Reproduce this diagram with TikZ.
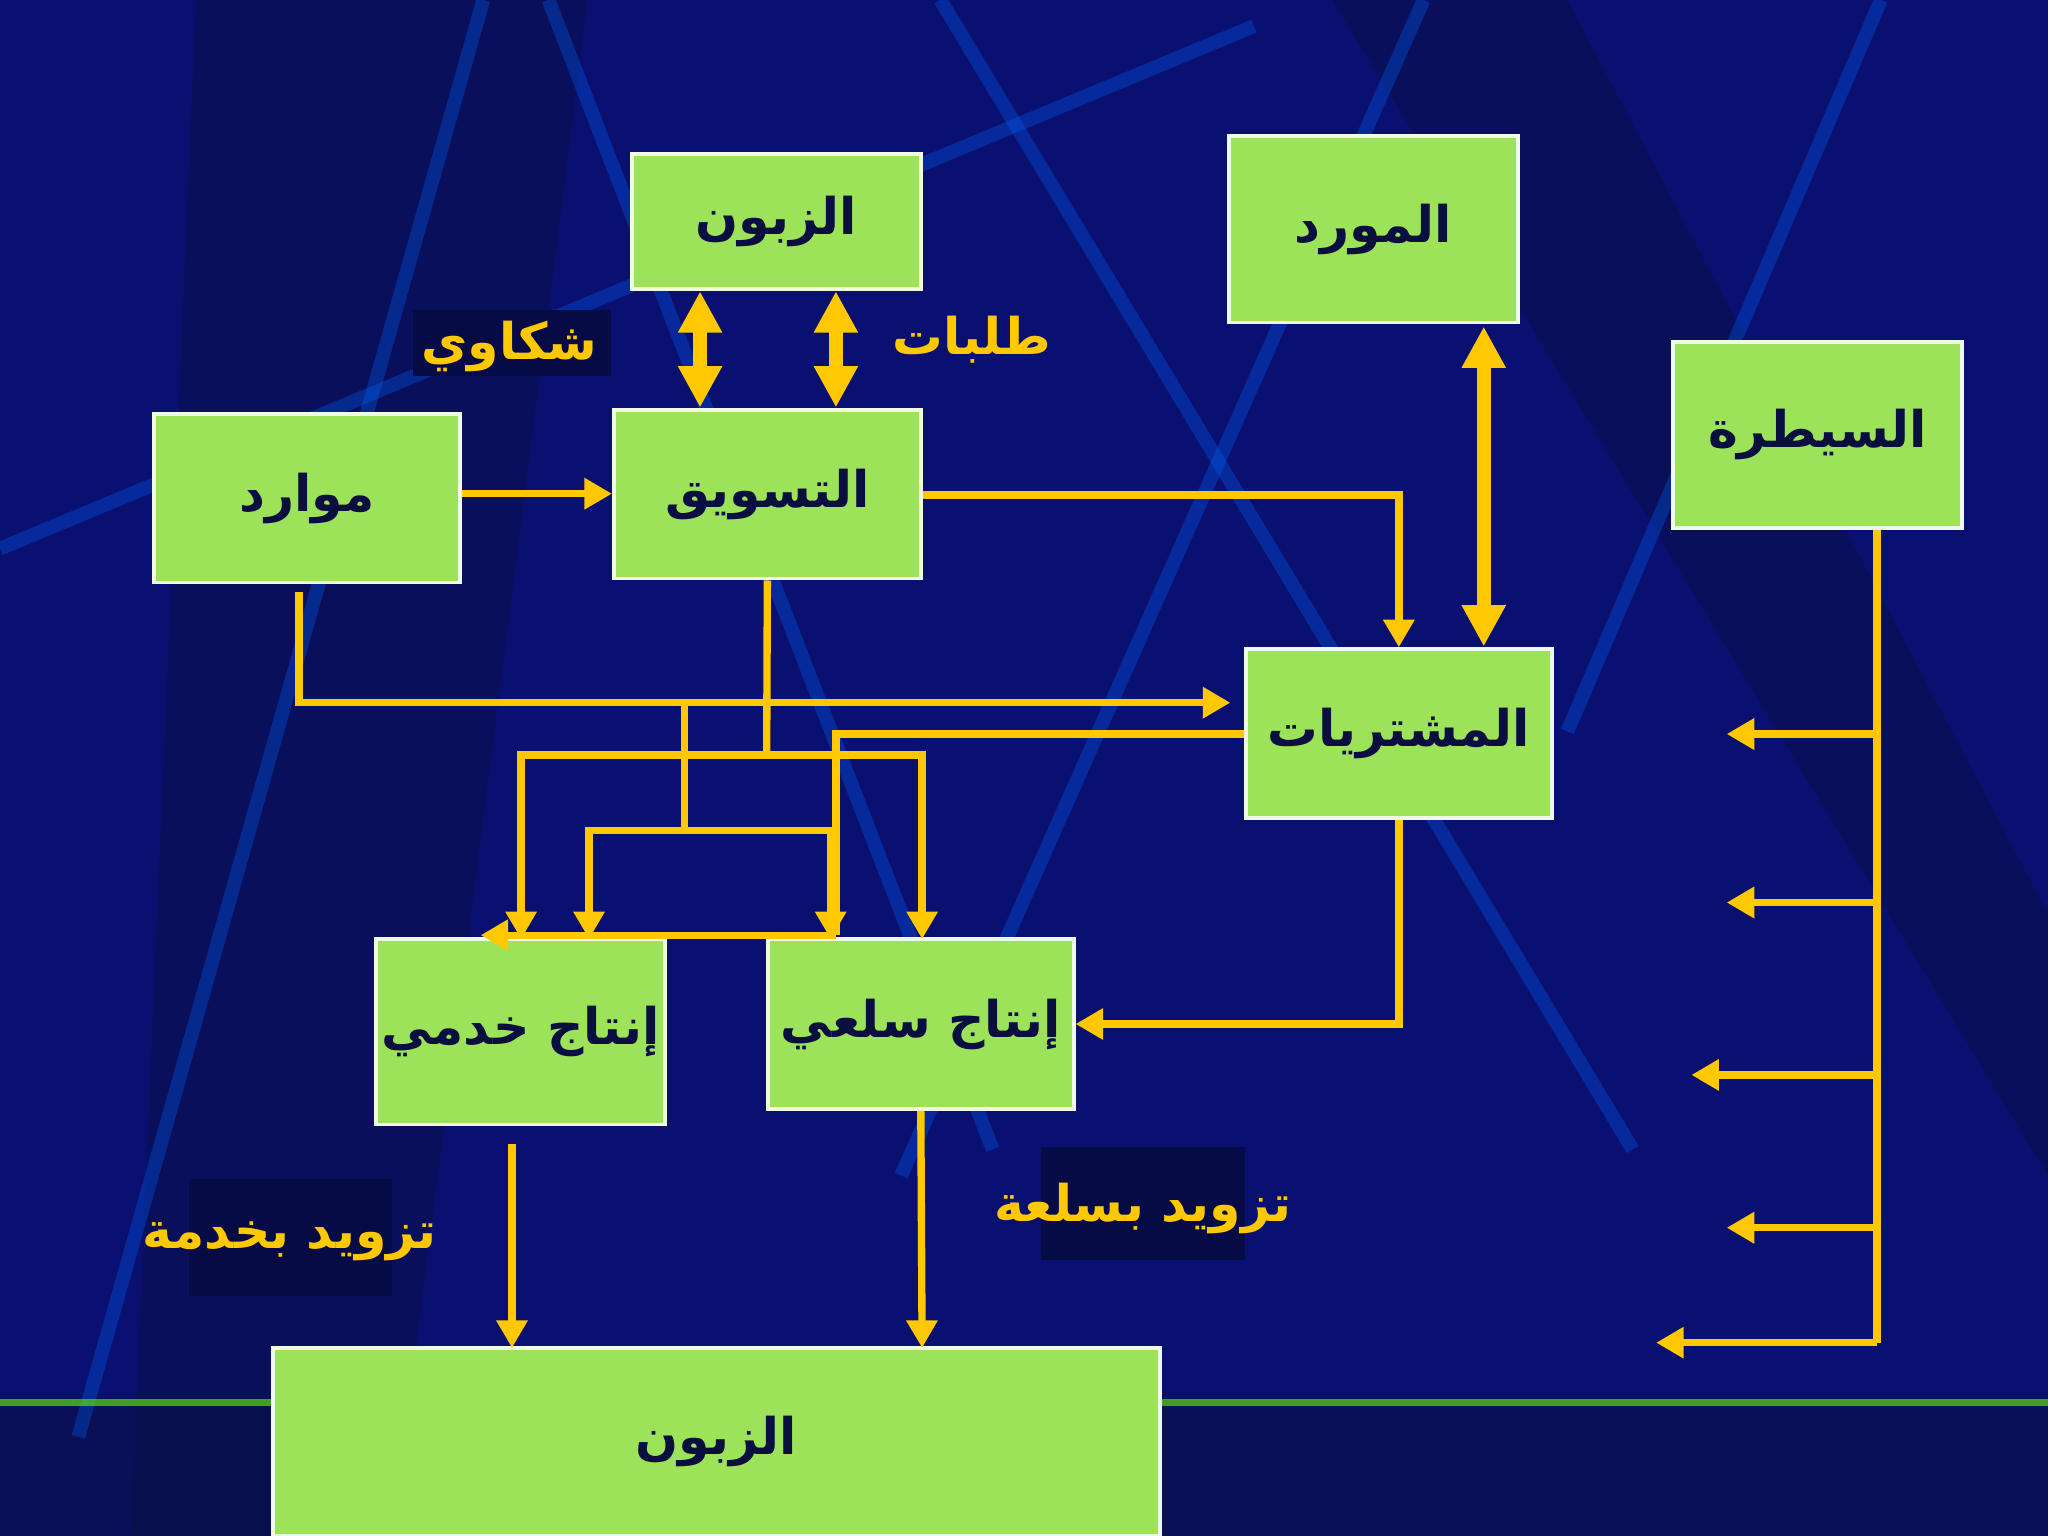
\documentclass[tikz,border=0pt]{standalone}
\usepackage{fontspec}
\TeXXeTstate=1
\newfontfamily\arabicfont[Script=Arabic]{DejaVu Sans}
\usetikzlibrary{arrows.meta}
\definecolor{bgblue}{HTML}{0A1070}
\definecolor{boxgreen}{HTML}{9CE35A}
\definecolor{navy}{HTML}{0A0F40}
\definecolor{arr}{HTML}{FFC800}
\definecolor{lab}{HTML}{060A45}
\tikzset{
 box/.style={draw=white!85!boxgreen,line width=0.8pt,fill=boxgreen,inner sep=0pt,text=navy,font=\arabicfont\bfseries\fontsize{11}{13}\selectfont},
 con/.style={draw=arr,line width=1.6pt,-{Triangle[length=6pt,width=6.5pt]}},
 line/.style={draw=arr,line width=1.6pt},
 dbl/.style={draw=arr,line width=3pt,{Triangle[length=9pt,width=9pt]}-{Triangle[length=9pt,width=9pt]}},
 lbl/.style={text=arr,font=\arabicfont\bfseries\fontsize{11}{13}\selectfont,inner sep=0pt},
 lblbg/.style={fill=lab,inner sep=0pt},
 bgline/.style={draw=blue!60!cyan,opacity=0.3,line width=3pt}
}
\begin{document}
\begin{tikzpicture}[x=0.01cm,y=-0.01cm]
\useasboundingbox (0,0) rectangle (1568,1176);
\begin{scope}
\clip (0,0) rectangle (1568,1176);
\fill[bgblue] (0,0) rectangle (1568,1176);
\fill[navy,opacity=0.5] (0,1070) rectangle (1568,1176);
\fill[navy,opacity=0.4] (150,0) -- (450,0) -- (300,1176) -- (100,1176) -- cycle;
\fill[navy,opacity=0.4] (1020,0) -- (1200,0) -- (1568,700) -- (1568,900) -- cycle;
\draw[bgline] (370,0) -- (60,1100);
\draw[bgline] (420,0) -- (760,880);
\draw[bgline] (720,0) -- (1250,880);
\draw[bgline] (1090,0) -- (690,900);
\draw[bgline] (1440,0) -- (1200,560);
\draw[bgline] (0,420) -- (960,20);
\draw[draw=green!60!yellow,opacity=0.6,line width=1.5pt] (0,1074) -- (1568,1074);
\end{scope}

\node[box,minimum width=2.21cm,minimum height=1.03cm] (zt) at (594.5,169.5) {\beginR الزبون\endR};
\node[box,minimum width=2.21cm,minimum height=1.43cm] (mo) at (1051.5,175.5) {\beginR المورد\endR};
\node[box,minimum width=2.21cm,minimum height=1.42cm] (sa) at (1391.5,333) {\beginR السيطرة\endR};
\node[box,minimum width=2.34cm,minimum height=1.29cm] (ma) at (235,381.5) {\beginR موارد\endR};
\node[box,minimum width=2.35cm,minimum height=1.29cm] (ta) at (587.5,378.5) {\beginR التسويق\endR};
\node[box,minimum width=2.34cm,minimum height=1.29cm] (mu) at (1071,561.5) {\beginR المشتريات\endR};
\node[box,minimum width=2.21cm,minimum height=1.42cm] (kh) at (398.5,790) {\beginR إنتاج خدمي\endR};
\node[box,minimum width=2.34cm,minimum height=1.30cm] (si) at (705,784) {\beginR إنتاج سلعي\endR};
\node[box,minimum width=6.79cm,minimum height=1.44cm] (zb) at (548.5,1104) {\beginR الزبون\endR};

\node[lblbg,minimum width=1.52cm,minimum height=0.51cm] at (392,262.5) {};
\node[lbl] (sh) at (390,265) {\beginR شكاوي\endR};
\node[lbl] (tl) at (744,260) {\beginR طلبات\endR};
\node[lblbg,minimum width=1.55cm,minimum height=0.89cm] at (222.5,947.5) {};
\node[lbl] (tk) at (222,950) {\beginR تزويد بخدمة\endR};
\node[lblbg,minimum width=1.56cm,minimum height=0.87cm] at (875,921.5) {};
\node[lbl] (ts) at (875,925) {\beginR تزويد بسلعة\endR};

\draw[dbl] (536,223) -- (536,312);
\draw[dbl] (640,223) -- (640,312);
\draw[dbl] (1136,250) -- (1136,495);
\draw[con] (ma.east |- 0,378) -- (ta.west |- 0,378);
\draw[con] (ta.east |- 0,379) -| (mu.north);
\coordinate (m1) at (229,453);
\draw[con] (m1) |- (942,538);
\coordinate (t1) at (587,578);
\draw[line] (ta.south) -- (t1);
\draw[con] (t1) -| (399,719);
\draw[con] (t1) -| (706,719);
\coordinate (c1) at (524,538);
\coordinate (c2) at (524,636);
\draw[line] (c1) -- (c2);
\draw[con] (c2) -| (451,719);
\draw[con] (c2) -| (636,719);
\coordinate (p1) at (640,562);
\coordinate (p2) at (640,716);
\draw[line] (mu.west |- p1) -- (p1) -- (p2);
\draw[con] (p2) -- (368,716);
\draw[con] (mu.south) |- (si.east);
\draw[con] (392,876) -- (392,1032);
\draw[con] (si.south) -- (706,1032);
\coordinate (s1) at (1437,1028);
\draw[line] (sa.south -| s1) -- (s1);
\coordinate (a1) at (1437,562);
\coordinate (a2) at (1437,691);
\coordinate (a3) at (1437,823);
\coordinate (a4) at (1437,940);
\draw[con] (a1) -- (1322,562);
\draw[con] (a2) -- (1322,691);
\draw[con] (a3) -- (1295,823);
\draw[con] (a4) -- (1322,940);
\draw[con] (s1) -- (1268,1028);
\end{tikzpicture}
\end{document}
